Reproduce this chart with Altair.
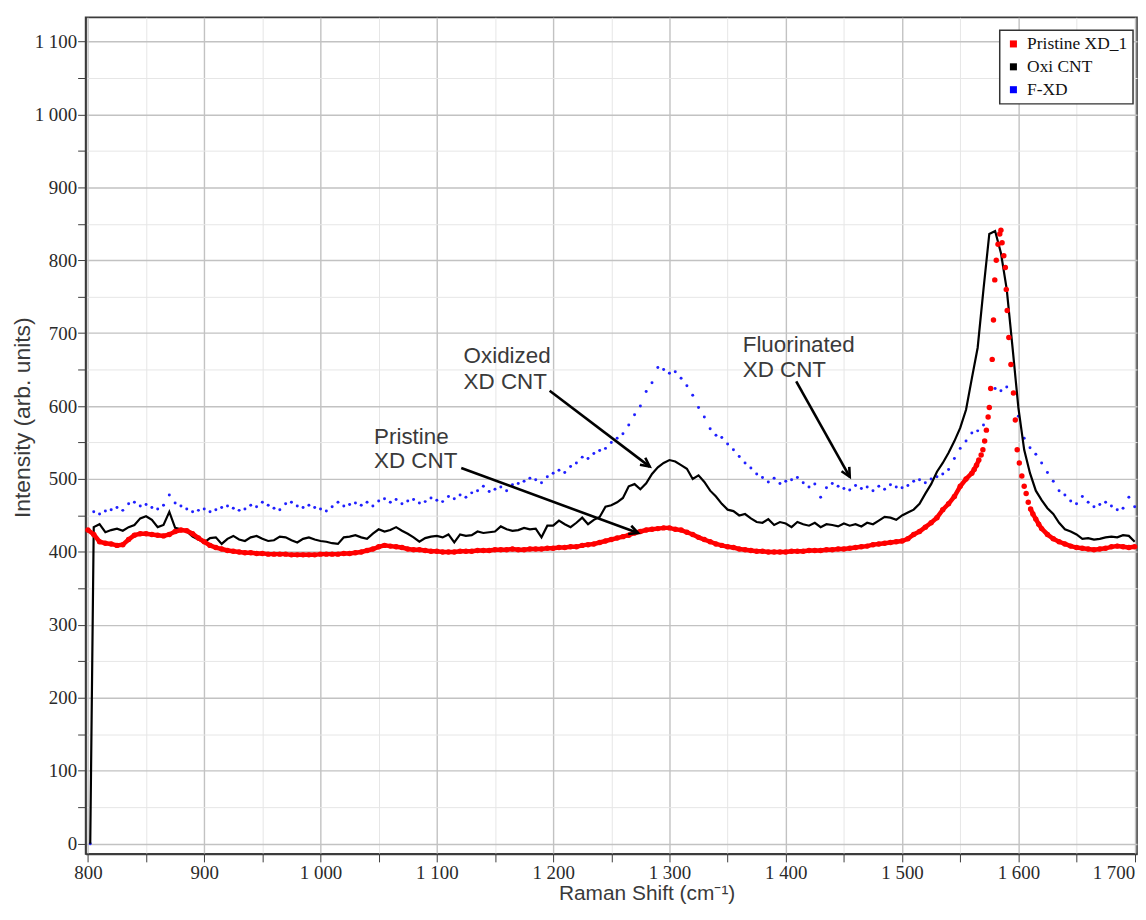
import math
import altair as alt
import pandas as pd

# ---------------- data ----------------
series_names = ["Pristine XD_1", "Oxi CNT", "F-XD"]
series_colors = ["#ff0000", "#000000", "#0000ff"]

x_ticks = list(range(800, 1701, 50))
y_ticks = list(range(0, 1101, 50))

# Pristine XD CNT (red dots)
pristine_shift = list(range(800, 1561, 5)) + [
    1562, 1564, 1566, 1568, 1569.5, 1571, 1572.5, 1574, 1575, 1576.2,
    1577.5, 1578.6, 1579.7, 1581, 1582.5, 1584, 1585, 1586, 1587.5, 1588.8,
    1589.6, 1590.4, 1591.8, 1593.6, 1595.8, 1597.4, 1599, 1600.8, 1603, 1605,
    1606.7, 1608.5, 1610.5, 1612.5, 1615, 1617.5, 1620,
    1625, 1630, 1635, 1640, 1645, 1650, 1655, 1660, 1665, 1670,
    1675, 1680, 1685, 1690, 1695, 1700]
pristine_int = [
    430, 424, 414, 412, 411, 409, 410, 417, 423, 425,
    425, 424, 423, 422, 424, 428, 430, 429, 425, 419,
    414, 409, 406, 404, 402, 401, 400, 399, 399, 398,
    398, 397, 397, 397, 397, 396, 396, 396, 396, 396,
    397, 397, 397, 397, 398, 398, 399, 400, 402, 404,
    407, 409, 408, 407, 406, 404, 403, 403, 402, 401,
    401, 400, 400, 400, 401, 401, 401, 402, 402, 402,
    403, 403, 403, 404, 403, 403, 404, 404, 404, 405,
    405, 406, 406, 407, 407, 409, 410, 411, 413, 415,
    417, 419, 421, 423, 426, 428, 430, 431, 432, 433,
    433, 431, 430, 427, 424, 420, 417, 414, 411, 409,
    407, 406, 404, 403, 402, 401, 401, 400, 400, 400,
    400, 401, 401, 401, 402, 402, 402, 403, 403, 404,
    404, 405, 406, 407, 408, 410, 411, 412, 413, 414,
    415, 418, 424, 428, 434, 440, 447, 458, 466, 476,
    490, 500, 508,
    513, 519, 526, 533, 540, 552, 567, 585, 598, 624,
    664, 718, 773, 800, 822, 836, 841, 824, 806, 790,
    760, 731, 694, 657, 618, 581, 540, 522, 504, 490,
    480, 468, 459, 452, 445, 438, 432,
    424, 418, 414, 411, 408, 406, 405, 404, 403, 404,
    405, 407, 408, 407, 406, 407]

# Oxidized XD CNT (black line)
oxi_shift = [802] + list(range(805, 1701, 5))
oxi_int = [0,
    434, 438, 427, 430, 432, 429, 434, 437, 446, 449,
    444, 434, 437, 455, 433, 431, 428, 421, 417, 413,
    419, 420, 411, 418, 422, 417, 415, 420, 422, 418,
    415, 416, 421, 420, 416, 413, 418, 420, 417, 415,
    414, 412, 411, 420, 421, 423, 420, 418, 425, 431,
    428, 430, 434, 429, 425, 420, 414, 419, 421, 422,
    420, 424, 413, 424, 422, 423, 428, 426, 427, 428,
    435, 431, 429, 430, 433, 431, 432, 420, 436, 436,
    443, 438, 434, 440, 447, 438, 444, 448, 462, 464,
    468, 474, 490, 493, 486, 494, 507, 516, 522, 526,
    524, 519, 514, 500, 505, 496, 484, 476, 466, 458,
    456, 450, 452, 446, 441, 440, 445, 437, 441, 439,
    434, 441, 438, 436, 440, 434, 438, 437, 435, 439,
    436, 438, 435, 440, 438, 443, 448, 447, 444, 450,
    454, 458, 466, 480, 493, 510, 522, 536, 552, 570,
    595, 638, 680, 760, 836, 840, 810, 760, 680, 598,
    540, 508, 484, 471, 460, 452, 440, 431, 428, 424,
    418, 419, 417, 418, 420, 421, 420, 423, 422, 414]

# Fluorinated XD CNT (blue dots)
fxd_shift = [802] + list(range(805, 1701, 5))
fxd_int = [0,
    455, 452, 456, 458, 461, 457, 466, 468, 463, 465,
    461, 459, 464, 478, 467, 463, 459, 455, 457, 459,
    455, 458, 461, 463, 460, 457, 459, 464, 462, 468,
    464, 460, 458, 466, 468, 463, 461, 464, 461, 459,
    456, 462, 468, 463, 465, 467, 464, 468, 463, 470,
    473, 468, 472, 466, 470, 472, 467, 469, 474, 471,
    469, 476, 473, 478, 475, 481, 484, 490, 483, 486,
    489, 484, 492, 494, 497, 501, 499, 495, 503, 508,
    512, 509, 517, 522, 530, 528, 535, 539, 542, 550,
    556, 562, 574, 588, 600, 620, 632, 653, 650, 645,
    647, 638, 628, 615, 598, 585, 569, 560, 557, 548,
    540, 531, 522, 515, 507, 502, 496, 501, 494, 497,
    499, 502, 495, 489, 493, 475, 488, 494, 490, 487,
    485, 491, 487, 489, 484, 490, 486, 492, 489, 488,
    491, 497, 499, 495, 500, 503, 507, 513, 528, 542,
    552, 563, 566, 574, 598, 624, 621, 626, 617, 586,
    556, 543, 534, 522, 509, 497, 484, 478, 470, 466,
    476, 468, 462, 465, 468, 463, 458, 460, 475, 462]

# annotations (data units)
note_text = ["Oxidized", "XD CNT", "Pristine", "XD CNT", "Fluorinated", "XD CNT"]
note_shift = [1123, 1123, 1046, 1046, 1363, 1363]
note_int = [669, 633, 558, 524, 684, 649]

arrow_shift1 = [1197, 1121, 1409]
arrow_int1 = [621, 515, 634]
arrow_shift2 = [1283, 1273, 1455]
arrow_int2 = [517, 426, 503]

# ---------------- layout ----------------
TOTAL_W, TOTAL_H = 1136, 898
PLOT_W, PLOT_H = 1054, 843   # approximate, used only for arrow-head angles
X_DOM = [798, 1702]
Y_DOM = [-14, 1133]

red = pd.DataFrame({"shift": pristine_shift, "intensity": pristine_int})
blk = pd.DataFrame({"shift": oxi_shift, "intensity": oxi_int})
blu = pd.DataFrame({"shift": fxd_shift, "intensity": fxd_int})
notes = pd.DataFrame({"shift": note_shift, "intensity": note_int, "label": note_text})

kx = PLOT_W / (X_DOM[1] - X_DOM[0])
ky = PLOT_H / (Y_DOM[1] - Y_DOM[0])
angles = [
    math.degrees(math.atan2((a1 - a2) * ky, (s2 - s1) * kx)) % 360
    for s1, a1, s2, a2 in zip(arrow_shift1, arrow_int1, arrow_shift2, arrow_int2)
]
arrows = pd.DataFrame({"shift": arrow_shift1, "intensity": arrow_int1,
                       "shift2": arrow_shift2, "intensity2": arrow_int2})
heads = pd.DataFrame({"shift": arrow_shift2, "intensity": arrow_int2, "angle": angles})
legend_df = pd.DataFrame({"series": series_names})

major_test = "datum.value % 100 === 0"
grid_color = {"condition": {"test": major_test, "value": "#c2c2c2"}, "value": "#e6e6e6"}
grid_width = {"condition": {"test": major_test, "value": 1.4}, "value": 1}
label_expr = "datum.value % 100 === 0 ? replace(format(datum.value, ','), ',', ' ') : ''"

x_axis = alt.Axis(
    values=x_ticks, labelExpr=label_expr, labelFlush=False, labelOverlap=False,
    labelAlign={"condition": {"test": "datum.value >= 1700", "value": "right"}, "value": "center"},
    gridColor=grid_color, gridWidth=grid_width,
    labelFont="Liberation Serif", labelFontSize=19, labelColor="#2a2a2a", labelPadding=2,
    tickSize=8, tickColor="#3c3c3c", domainColor="#3c3c3c", domainWidth=1.6,
    titleFont="Liberation Sans", titleFontSize=21, titleFontWeight="normal",
    titleColor="#3a3a3a", titlePadding=0, titleX=564,
)
y_axis = alt.Axis(
    values=y_ticks, labelExpr=label_expr, labelFlush=False, labelOverlap=False,
    gridColor=grid_color, gridWidth=grid_width,
    labelFont="Liberation Serif", labelFontSize=19, labelColor="#2a2a2a", labelPadding=1,
    tickSize=8, tickColor="#3c3c3c", domainColor="#3c3c3c", domainWidth=1.6,
    titleFont="Liberation Sans", titleFontSize=23, titleFontWeight="normal",
    titleColor="#3a3a3a", titlePadding=0, titleY=402,
)

X = alt.X("shift:Q", scale=alt.Scale(domain=X_DOM, nice=False, zero=False),
          axis=x_axis, title="Raman Shift (cm⁻¹)")
Y = alt.Y("intensity:Q", scale=alt.Scale(domain=Y_DOM, nice=False, zero=False),
          axis=y_axis, title="Intensity (arb. units)")

blue_layer = alt.Chart(blu).mark_point(filled=True, size=9, color="#1f1fff", opacity=1).encode(x=X, y=Y)
black_layer = alt.Chart(blk).mark_line(color="#000000", strokeWidth=2.2).encode(x=X, y=Y)
red_line = (
    alt.Chart(red)
    .transform_filter("datum.shift <= 1566 || datum.shift >= 1610")
    .transform_calculate(seg="datum.shift < 1590 ? 'a' : 'b'")
    .mark_line(color="#ff0000", strokeWidth=4.5)
    .encode(x=X, y=Y, detail="seg:N")
)
red_pts = alt.Chart(red).mark_point(filled=True, size=30, color="#ff0000", opacity=1).encode(x=X, y=Y)

text_layer = alt.Chart(notes).mark_text(
    align="left", baseline="middle", font="Liberation Sans", fontSize=22.5, color="#3a3a3a"
).encode(x=X, y=Y, text="label:N")

rule_layer = alt.Chart(arrows).mark_rule(color="#000000", strokeWidth=2.6).encode(
    x=X, y=Y, x2="shift2:Q", y2="intensity2:Q")
head_layer = alt.Chart(heads).mark_point(
    shape="M -1.7 -0.85 L 0 0 L -1.7 0.85", size=110, filled=False,
    strokeWidth=2.6, color="#000000", opacity=1
).encode(x=X, y=Y, angle=alt.Angle("angle:Q", scale=None))

legend_layer = alt.Chart(legend_df).mark_square(opacity=0, size=1).encode(
    color=alt.Color(
        "series:N",
        scale=alt.Scale(domain=series_names, range=series_colors),
        legend=alt.Legend(
            title=None, orient="none", legendX=919, legendY=13,
            symbolType="square", symbolSize=50, symbolOpacity=1, symbolStrokeWidth=0,
            labelFont="Liberation Serif", labelFontSize=17.5, labelColor="#111111",
            labelOffset=5, rowPadding=4, padding=5,
            strokeColor="#333333", fillColor="#ffffff",
        ),
    )
)

chart = (
    alt.layer(blue_layer, black_layer, red_line, red_pts, text_layer,
              rule_layer, head_layer, legend_layer)
    .properties(width=TOTAL_W, height=TOTAL_H,
                autosize=alt.AutoSizeParams(type="fit", contains="padding"),
                padding={"left": 3, "top": 7, "right": -6, "bottom": 0},
                background="#ffffff")
    .configure_view(stroke="#3c3c3c", strokeWidth=1.6)
    .configure_legend(strokeWidth=1.5)
)

chart.save("out.html", embed_options={"renderer": "svg", "actions": False})
